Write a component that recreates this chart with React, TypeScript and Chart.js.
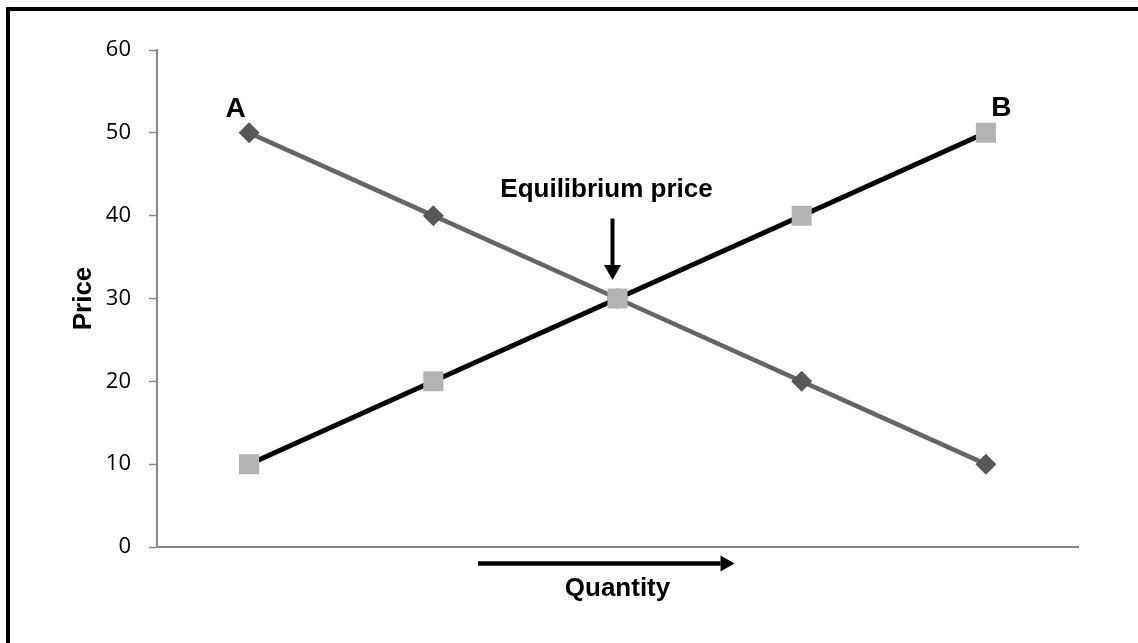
import React, { useEffect, useRef } from "react";
import { Chart, registerables } from "chart.js";

Chart.register(...registerables);

// ---- data ----
const categories = ["1", "2", "3", "4", "5"];
const seriesA = [50, 40, 30, 20, 10];
const seriesB = [10, 20, 30, 40, 50];
const yTicks = [0, 10, 20, 30, 40, 50, 60];
const labelA = "A";
const labelB = "B";
const labelEq = "Equilibrium price";
const yTitle = "Price";
const xTitle = "Quantity";

const BOLD = '"Liberation Sans", Arial, sans-serif';

function arrow(ctx: CanvasRenderingContext2D, x1: number, y1: number, x2: number, y2: number, w: number, headLen: number, headHalf: number) {
  const ang = Math.atan2(y2 - y1, x2 - x1);
  const bx = x2 - Math.cos(ang) * headLen;
  const by = y2 - Math.sin(ang) * headLen;
  ctx.beginPath();
  ctx.lineWidth = w;
  ctx.lineCap = "butt";
  ctx.moveTo(x1, y1);
  ctx.lineTo(bx, by);
  ctx.stroke();
  ctx.beginPath();
  ctx.moveTo(x2, y2);
  ctx.lineTo(bx - Math.sin(ang) * headHalf, by + Math.cos(ang) * headHalf);
  ctx.lineTo(bx + Math.sin(ang) * headHalf, by - Math.cos(ang) * headHalf);
  ctx.closePath();
  ctx.fill();
}

const annotationPlugin = {
  id: "annotationPlugin",
  afterDatasetsDraw(chart: any) {
    const { ctx, chartArea, scales } = chart;
    const x = scales.x;
    const y = scales.y;
    ctx.save();
    ctx.fillStyle = "#000";
    ctx.strokeStyle = "#000";
    ctx.textAlign = "center";
    ctx.textBaseline = "alphabetic";

    // A / B labels
    ctx.font = `bold 28px ${BOLD}`;
    ctx.fillText(labelA, x.getPixelForValue(0) - 13.5, y.getPixelForValue(seriesA[0]) - 16);
    const last = seriesB.length - 1;
    ctx.fillText(labelB, x.getPixelForValue(last) + 15.5, y.getPixelForValue(seriesB[last]) - 17);

    // equilibrium
    const ei = seriesA.findIndex((v, i) => v === seriesB[i]);
    if (ei >= 0) {
      const ex = x.getPixelForValue(ei);
      const ey = y.getPixelForValue(seriesA[ei]);
      ctx.font = `bold 26px ${BOLD}`;
      ctx.fillText(labelEq, ex - 11, ey - 101.5);
      arrow(ctx, ex - 5, ey - 80, ex - 5, ey - 18.5, 4, 15, 8.5);
    }

    // quantity arrow
    const cx = (chartArea.left + chartArea.right) / 2;
    const ay = chartArea.bottom + 16.5;
    arrow(ctx, cx - 139.5, ay, cx + 117, ay, 4.5, 14, 8);
    ctx.restore();
  },
};

export default function App() {
  const ref = useRef<HTMLCanvasElement>(null);
  useEffect(() => {
    if (!ref.current) return;
    const chart = new Chart(ref.current, {
      type: "line",
      data: {
        labels: categories,
        datasets: [
          {
            label: "A",
            data: seriesA,
            borderColor: "#656565",
            backgroundColor: "#575757",
            borderWidth: 4.5,
            pointStyle: "rectRot",
            pointRadius: 10.5,
            pointBackgroundColor: "#575757",
            pointBorderWidth: 0,
            tension: 0,
            order: 2,
          },
          {
            label: "B",
            data: seriesB,
            borderColor: "#000000",
            backgroundColor: "#b3b3b3",
            borderWidth: 5,
            pointStyle: "rect",
            pointRadius: 14.2,
            pointBackgroundColor: "#b3b3b3",
            pointBorderWidth: 0,
            tension: 0,
            order: 1,
          },
        ],
      },
      options: {
        animation: false,
        responsive: false,
        layout: { padding: { left: 0, top: 50, right: 60, bottom: 0 } },
        plugins: { legend: { display: false }, tooltip: { enabled: false } },
        scales: {
          x: {
            type: "category",
            offset: true,
            grid: { display: false },
            border: { display: true, color: "#888888", width: 2 },
            ticks: { display: false },
            title: {
              display: true,
              text: xTitle,
              color: "#000",
              font: { family: BOLD, size: 26, weight: "bold" },
              padding: { top: 0, bottom: 38.4 },
            },
            afterFit(scale: any) {
              scale.height = 96;
            },
          },
          y: {
            min: 0,
            max: 60,
            afterBuildTicks(scale: any) {
              scale.ticks = yTicks.map((v) => ({ value: v }));
            },
            grid: {
              drawOnChartArea: false,
              drawTicks: true,
              tickLength: 8,
              tickColor: "#888888",
              tickWidth: 1.5,
            },
            border: { display: true, color: "#888888", width: 2 },
            ticks: {
              color: "#000",
              padding: 18,
              font: { family: '"Open Sans", "Noto Sans", sans-serif', size: 22 },
            },
            title: {
              display: true,
              text: yTitle,
              color: "#000",
              font: { family: BOLD, size: 26, weight: "bold" },
              padding: { top: 68, bottom: 0 },
            },
            afterFit(scale: any) {
              scale.width = 157;
            },
          },
        },
      },
      plugins: [annotationPlugin],
    });
    return () => chart.destroy();
  }, []);

  return (
    <>
      <canvas
        ref={ref}
        width={1138}
        height={643}
        style={{ position: "fixed", left: 0, top: 0, width: 1138, height: 643, display: "block" }}
      />
      <div
        style={{
          position: "fixed",
          left: 6,
          top: 7,
          width: 1200,
          height: 700,
          borderTop: "4px solid #000",
          borderLeft: "4px solid #000",
          pointerEvents: "none",
          boxSizing: "border-box",
        }}
      />
    </>
  );
}
